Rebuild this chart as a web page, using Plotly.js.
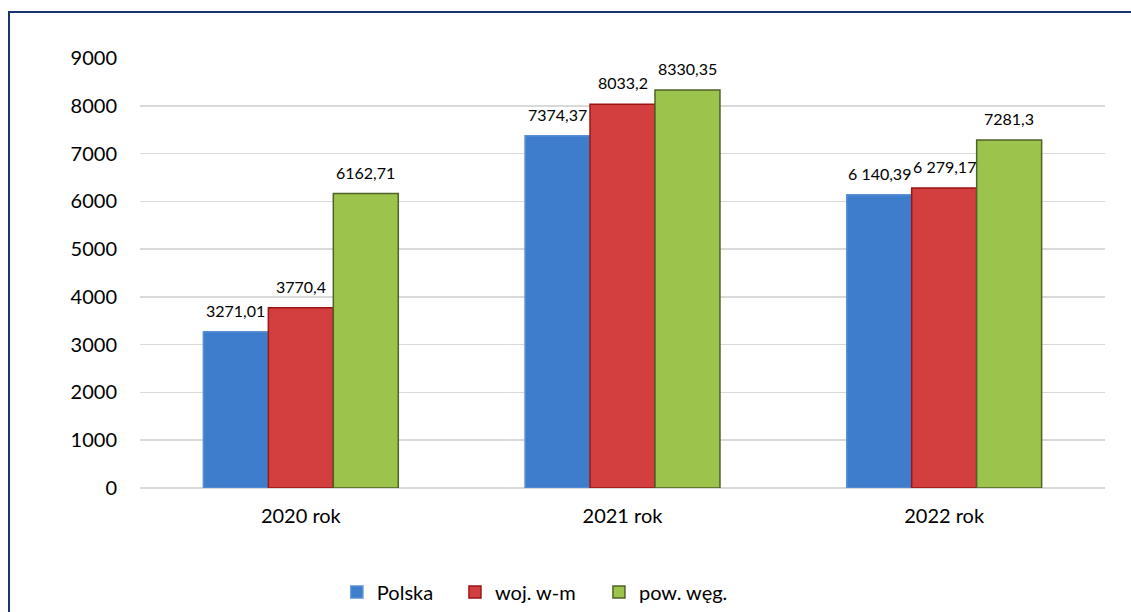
<!DOCTYPE html>
<html>
<head>
<meta charset="utf-8">
<script src="https://cdn.plot.ly/plotly-3.0.1.min.js"></script>
<style>
  html, body { margin: 0; padding: 0; background: #ffffff; }
  #chart { width: 1131px; height: 612px; }
  #frame { position: absolute; left: 8px; top: 11px; width: 1140px; height: 620px;
           border: 2px solid #1c3570; pointer-events: none; box-sizing: border-box; }
</style>
</head>
<body>
<div id="chart"></div>
<div id="frame"></div>
<script>
const categories = ["2020 rok", "2021 rok", "2022 rok"];
const seriesNames = ["Polska", "woj. w-m", "pow. węg."];
const polska = [3271.01, 7374.37, 6140.39];
const wojWM = [3770.4, 8033.2, 6279.17];
const powWeg = [6162.71, 8330.35, 7281.3];
const polskaLabels = ["3271,01", "7374,37", "6 140,39"];
const wojWMLabels = ["3770,4", "8033,2", "6 279,17"];
const powWegLabels = ["6162,71", "8330,35", "7281,3"];
const yTicks = [0, 1000, 2000, 3000, 4000, 5000, 6000, 7000, 8000, 9000];

const FONT = "Lato, 'Liberation Sans', sans-serif";
const fills = ["#3e7dcc", "#d33f3f", "#9cc34b"];
const edges = ["#5b8fd6", "#9b1515", "#4f6228"];
const seriesValues = [polska, wojWM, powWeg];
const seriesLabels = [polskaLabels, wojWMLabels, powWegLabels];
const bargap = 0.394;
const legendIds = ["legend", "legend2", "legend3"];
const legendX = [0.204, 0.3264, 0.4756];

const traces = seriesValues.map((vals, s) => ({
  type: "bar",
  name: seriesNames[s],
  x: categories,
  y: vals,
  legend: legendIds[s],
  marker: { color: fills[s], line: { color: edges[s], width: 1.5 } },
  hoverinfo: "y+name"
}));

const w = (1 - bargap) / 3;
const annotations = [];
seriesValues.forEach((vals, s) => {
  vals.forEach((v, i) => {
    annotations.push({
      x: i + (s - 1) * w, y: v, xref: "x", yref: "y",
      text: seriesLabels[s][i], showarrow: false,
      yanchor: "bottom", yshift: 10,
      font: { family: FONT, size: 16, color: "#000000" }
    });
  });
});

const layout = {
  width: 1131, height: 612,
  margin: { l: 140, r: 26, t: 58, b: 124, autoexpand: false },
  paper_bgcolor: "#ffffff", plot_bgcolor: "#ffffff",
  barmode: "group", bargap: bargap, bargroupgap: 0,
  font: { family: FONT, color: "#000000" },
  xaxis: {
    type: "category",
    tickfont: { family: FONT, size: 20, color: "#000000" },
    showgrid: false, showline: false, ticks: "", ticklabelstandoff: 14
  },
  yaxis: {
    range: [0, 9000], tickvals: yTicks, ticktext: yTicks.map(String),
    tickfont: { family: FONT, size: 20, color: "#000000" },
    showgrid: true, gridcolor: "#d9d9d9", gridwidth: 1.5,
    zeroline: true, zerolinecolor: "#d9d9d9", zerolinewidth: 1.5,
    showline: false, ticks: "", ticklabelstandoff: 22
  },
  showlegend: true,
  annotations: annotations
};
legendIds.forEach((id, s) => {
  layout[id] = {
    orientation: "h", x: legendX[s], xanchor: "left", y: -0.242, yanchor: "middle",
    font: { family: FONT, size: 20, color: "#000000" },
    itemwidth: 30, bgcolor: "rgba(0,0,0,0)"
  };
});

Plotly.newPlot("chart", traces, layout, { displayModeBar: false, staticPlot: true });
</script>
</body>
</html>
